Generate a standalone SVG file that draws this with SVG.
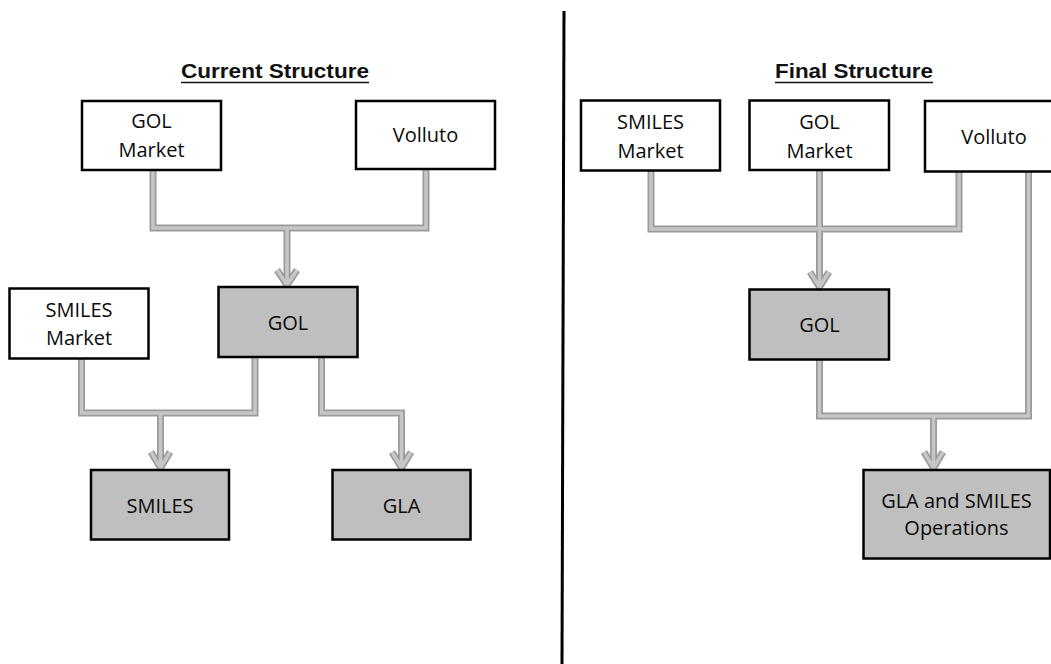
<svg xmlns="http://www.w3.org/2000/svg" xmlns:xlink="http://www.w3.org/1999/xlink" width="1051" height="664" viewBox="0 0 1051 664">
<style>
.box{stroke:#000;stroke-width:2.5}
.white{fill:#fff}
.grey{fill:#bfbfbf}
.lbl{font-family:"Open Sans","Liberation Sans",sans-serif;font-size:20px;fill:#0a0a0a;text-anchor:middle}
.title{font-family:"Liberation Sans",Arial,sans-serif;font-weight:bold;font-size:20px;fill:#111}
.ul{stroke:#111;stroke-width:1.6}
.edge-out{fill:none;stroke:#9a9a9a;stroke-width:7;stroke-linejoin:miter}
.edge-in{fill:none;stroke:#c6c6c6;stroke-width:3.5;stroke-linejoin:miter}
</style>
<defs>
<path id="e1" d="M153,170 V228 H426 V170"/>
<path id="e2" d="M287,228 V286 M277,270 L287,285 L297,270"/>
<path id="e3" d="M81.5,358 V413 H255 V357"/>
<path id="e4" d="M160.5,413 V469 M151,452 L160.5,468 L170,452"/>
<path id="e5" d="M321.5,357 V413 H401.5 V469 M392,452 L401.5,468 L411,452"/>
<path id="e6" d="M651,171 V229 H959 V171"/>
<path id="e7" d="M819.5,170 V288 M810,272 L819.5,287 L829,272"/>
<path id="e8" d="M819.5,359 V416 H1028.5 V171"/>
<path id="e9" d="M933.5,416 V469 M924,452 L933.5,468 L943,452"/>
</defs>
<rect width="1051" height="664" fill="#fff"/>
<g id="divider"><line x1="564" y1="11" x2="562" y2="664" stroke="#000" stroke-width="3"/></g>
<g id="title-current"><text class="title" x="181" y="78" textLength="188" lengthAdjust="spacingAndGlyphs">Current Structure</text><line class="ul" x1="181" y1="82.5" x2="369" y2="82.5"/></g>
<g id="title-final"><text class="title" x="775" y="78" textLength="158" lengthAdjust="spacingAndGlyphs">Final Structure</text><line class="ul" x1="775" y1="82.5" x2="933" y2="82.5"/></g>
<g id="connectors">
<g class="edge-out">
<use xlink:href="#e1"/><use xlink:href="#e2"/><use xlink:href="#e3"/><use xlink:href="#e4"/><use xlink:href="#e5"/><use xlink:href="#e6"/><use xlink:href="#e7"/><use xlink:href="#e8"/><use xlink:href="#e9"/>
</g>
<g class="edge-in">
<use xlink:href="#e1"/><use xlink:href="#e2"/><use xlink:href="#e3"/><use xlink:href="#e4"/><use xlink:href="#e5"/><use xlink:href="#e6"/><use xlink:href="#e7"/><use xlink:href="#e8"/><use xlink:href="#e9"/>
</g>
</g>
<g id="gol-market-current"><rect class="box white" x="82" y="101" width="139" height="69"/><text class="lbl" x="151.5" y="128">GOL</text><text class="lbl" x="151.5" y="157">Market</text></g>
<g id="volluto-current"><rect class="box white" x="356" y="101" width="139" height="68"/><text class="lbl" x="425.5" y="142">Volluto</text></g>
<g id="smiles-market-current"><rect class="box white" x="9.5" y="288.5" width="139" height="70"/><text class="lbl" x="79" y="317">SMILES</text><text class="lbl" x="79" y="345">Market</text></g>
<g id="gol-current"><rect class="box grey" x="218.5" y="287" width="139" height="70"/><text class="lbl" x="288" y="330">GOL</text></g>
<g id="smiles-current"><rect class="box grey" x="91" y="470" width="138" height="69.5"/><text class="lbl" x="160" y="513">SMILES</text></g>
<g id="gla-current"><rect class="box grey" x="332.5" y="470" width="138" height="69.5"/><text class="lbl" x="401.5" y="513">GLA</text></g>
<g id="smiles-market-final"><rect class="box white" x="581" y="100.5" width="139" height="70"/><text class="lbl" x="650.5" y="128.5">SMILES</text><text class="lbl" x="650.5" y="158">Market</text></g>
<g id="gol-market-final"><rect class="box white" x="749.5" y="100.5" width="139.5" height="69.5"/><text class="lbl" x="819.5" y="128.5">GOL</text><text class="lbl" x="819.5" y="158">Market</text></g>
<g id="volluto-final"><rect class="box white" x="925" y="101" width="140" height="70.5"/><text class="lbl" x="994" y="143.5">Volluto</text></g>
<g id="gol-final"><rect class="box grey" x="749.5" y="289.5" width="139.5" height="70"/><text class="lbl" x="819.5" y="332">GOL</text></g>
<g id="gla-smiles-ops"><rect class="box grey" x="863.5" y="470" width="186.5" height="88.5"/><text class="lbl" x="956.5" y="508">GLA and SMILES</text><text class="lbl" x="956.5" y="535">Operations</text></g>
</svg>
